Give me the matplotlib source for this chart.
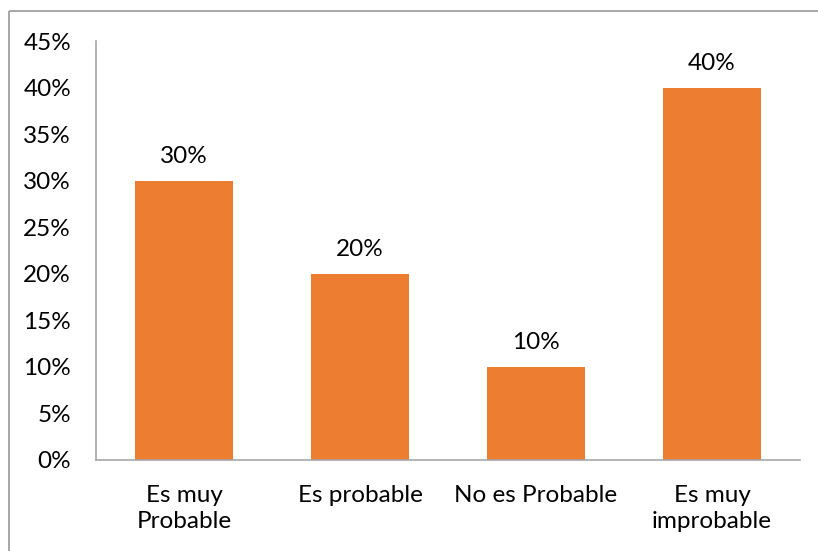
import matplotlib
matplotlib.use("Agg")
import matplotlib.pyplot as plt
from matplotlib.lines import Line2D

categories = ["Es muy\nProbable", "Es probable", "No es Probable", "Es muy\nimprobable"]
values = [0.30, 0.20, 0.10, 0.40]
yticks = [0, 0.05, 0.10, 0.15, 0.20, 0.25, 0.30, 0.35, 0.40, 0.45]
ytick_labels = ["0%", "5%", "10%", "15%", "20%", "25%", "30%", "35%", "40%", "45%"]

plt.rcParams["font.family"] = ["Lato", "DejaVu Sans"]
W, H = 818, 551
FS = 17.5
fig = plt.figure(figsize=(W / 100, H / 100), dpi=100)
fig.patch.set_facecolor("white")

ax = fig.add_axes([96 / W, (H - 460) / H, (800 - 96) / W, (460 - 41) / H])
x = range(len(categories))
ax.bar(x, values, width=0.56, color="#ED7D31")
for xi, v in zip(x, values):
    ax.annotate(f"{v * 100:.0f}%", (xi, v), xytext=(0, 10), textcoords="offset points",
                ha="center", va="bottom", fontsize=FS, color="#000000")

ax.set_xlim(-0.5, len(categories) - 0.5)
ax.set_ylim(0, 0.45)
ax.set_yticks(yticks)
ax.set_yticklabels(ytick_labels)
ax.set_xticks(list(x))
ax.set_xticklabels(categories, linespacing=1.3)
ax.tick_params(axis="y", length=0, pad=18, labelsize=FS, colors="#000000")
ax.tick_params(axis="x", length=0, pad=18, labelsize=FS, colors="#000000")
for s in ["top", "right"]:
    ax.spines[s].set_visible(False)
for s in ["left", "bottom"]:
    ax.spines[s].set_color("#A6A6A6")
    ax.spines[s].set_linewidth(1.2)

# chart frame: top and left edges
top_y = (H - 10.5) / H
left_x = 8.5 / W
fig.add_artist(Line2D([left_x, 1.0], [top_y, top_y], transform=fig.transFigure,
                      color="#A0A0A0", linewidth=1.3, solid_capstyle="butt"))
fig.add_artist(Line2D([left_x, left_x], [0.0, top_y], transform=fig.transFigure,
                      color="#A0A0A0", linewidth=1.3, solid_capstyle="butt"))

fig.savefig("out.png", dpi=100, facecolor="white")
